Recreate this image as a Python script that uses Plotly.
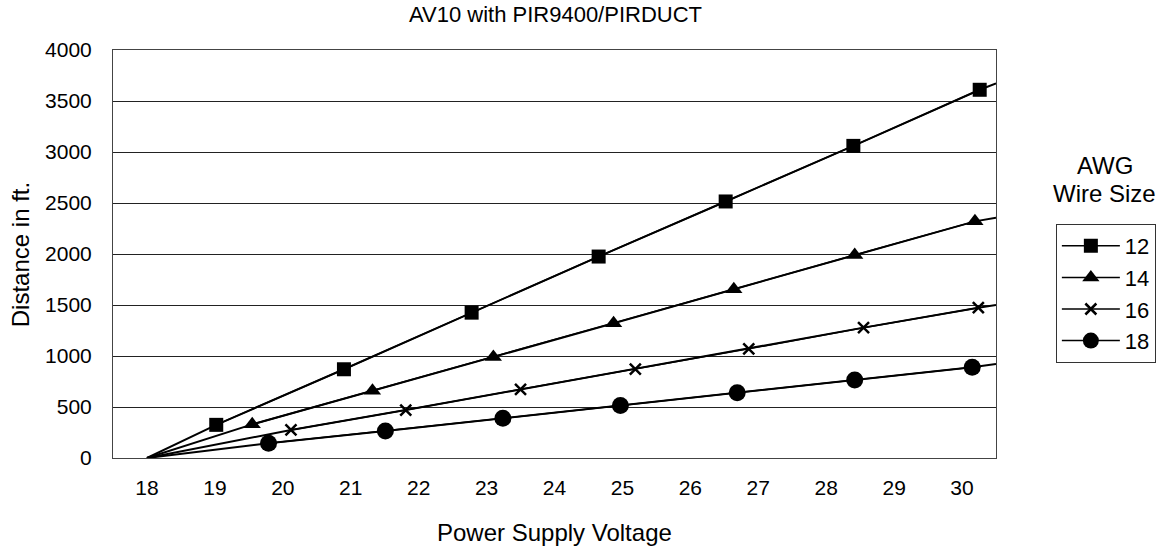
import plotly.graph_objects as go

# Data
wire_sizes = ["12", "14", "16", "18"]

v12 = [19.02, 20.90, 22.78, 24.65, 26.52, 28.40, 30.26]
d12 = [325, 870, 1425, 1975, 2515, 3060, 3610]

v14 = [19.55, 21.32, 23.10, 24.87, 26.64, 28.42, 30.19]
d14 = [330, 660, 990, 1320, 1655, 1990, 2320]

v16 = [20.12, 21.81, 23.50, 25.19, 26.86, 28.55, 30.24]
d16 = [275, 470, 673, 872, 1070, 1278, 1474]

v18 = [19.79, 21.51, 23.24, 24.97, 26.69, 28.42, 30.15]
d18 = [145, 265, 390, 515, 640, 765, 890]

# Line origin and the values where each line leaves the plot at the right edge
line_start_v = 18
line_start_d = 0
line_end_v = 30.5
line_end_d = [3673, 2356, 1500, 922]

x_ticks = list(range(18, 31))
y_ticks = list(range(0, 4001, 500))

series = [(v12, d12, "square"), (v14, d14, "triangle-up"), (v16, d16, "x-thin"), (v18, d18, "circle")]
sizes = {"square": 14, "triangle-up": 15, "x-thin": 11, "circle": 17}

FONT = "Liberation Sans, Arial, sans-serif"
W, H = 1168, 548
ML, MR, MT, MB = 113, 170, 50, 90
PW, PH = W - ML - MR, H - MT - MB

fig = go.Figure()
for (vs, ds, sym), name, end_d in zip(series, wire_sizes, line_end_d):
    fig.add_trace(go.Scatter(
        x=[line_start_v] + vs + [line_end_v],
        y=[line_start_d] + ds + [end_d],
        mode="lines", line=dict(color="black", width=2),
        showlegend=False, hoverinfo="skip"))
    mk = dict(symbol=sym, size=sizes[sym], color="black")
    if sym == "x-thin":
        mk["line"] = dict(color="black", width=2.5)
    fig.add_trace(go.Scatter(
        x=vs, y=ds, mode="lines+markers", name=name,
        line=dict(color="black", width=1.5), marker=mk))


def px_x(px):
    return (px - ML) / PW


def px_y(py):
    return (H - MB - py) / PH


fig.update_layout(
    width=W, height=H,
    margin=dict(l=ML, r=MR, t=MT, b=MB),
    paper_bgcolor="white", plot_bgcolor="white",
    font=dict(family=FONT, size=21, color="black"),
    title=dict(text="AV10 with PIR9400/PIRDUCT", x=(ML + W - MR) / 2 / W, xanchor="center",
               y=1 - 14 / H, yanchor="middle", font=dict(size=22, family=FONT, color="black")),
    showlegend=True,
    legend=dict(x=px_x(1058), y=px_y(224), xanchor="left", yanchor="top",
                bordercolor="#333", borderwidth=1, bgcolor="white",
                font=dict(size=22, family=FONT, color="black"),
                tracegroupgap=0, itemwidth=58),
    annotations=[
        dict(text="AWG", xref="paper", yref="paper", x=px_x(1107), y=px_y(165),
             xanchor="center", yanchor="middle", showarrow=False,
             font=dict(size=24, family=FONT, color="black")),
        dict(text="Wire Size", xref="paper", yref="paper", x=px_x(1107), y=px_y(193),
             xanchor="center", yanchor="middle", showarrow=False,
             font=dict(size=24, family=FONT, color="black")),
        dict(text="Power Supply Voltage", xref="paper", yref="paper", x=0.5, y=px_y(532),
             xanchor="center", yanchor="middle", showarrow=False,
             font=dict(size=24, family=FONT, color="black")),
        dict(text="Distance in ft.", xref="paper", yref="paper", x=px_x(20), y=px_y(255),
             xanchor="center", yanchor="middle", showarrow=False, textangle=-90,
             font=dict(size=24, family=FONT, color="black")),
    ],
)
fig.update_xaxes(range=[17.5, 30.5], tickvals=x_ticks, ticktext=[str(t) for t in x_ticks],
                 showgrid=False, zeroline=False, showline=True, linecolor="#444", linewidth=1,
                 mirror=True, ticks="", ticklabelstandoff=11)
fig.update_yaxes(range=[0, 4000], tickvals=y_ticks, showgrid=True, gridcolor="#222", gridwidth=1,
                 zeroline=False, showline=True, linecolor="#444", linewidth=1, mirror=True,
                 ticks="", ticklabelstandoff=16)

fig.write_html("out.html", config={"displayModeBar": False},
               post_script="document.body.style.margin='0';")
